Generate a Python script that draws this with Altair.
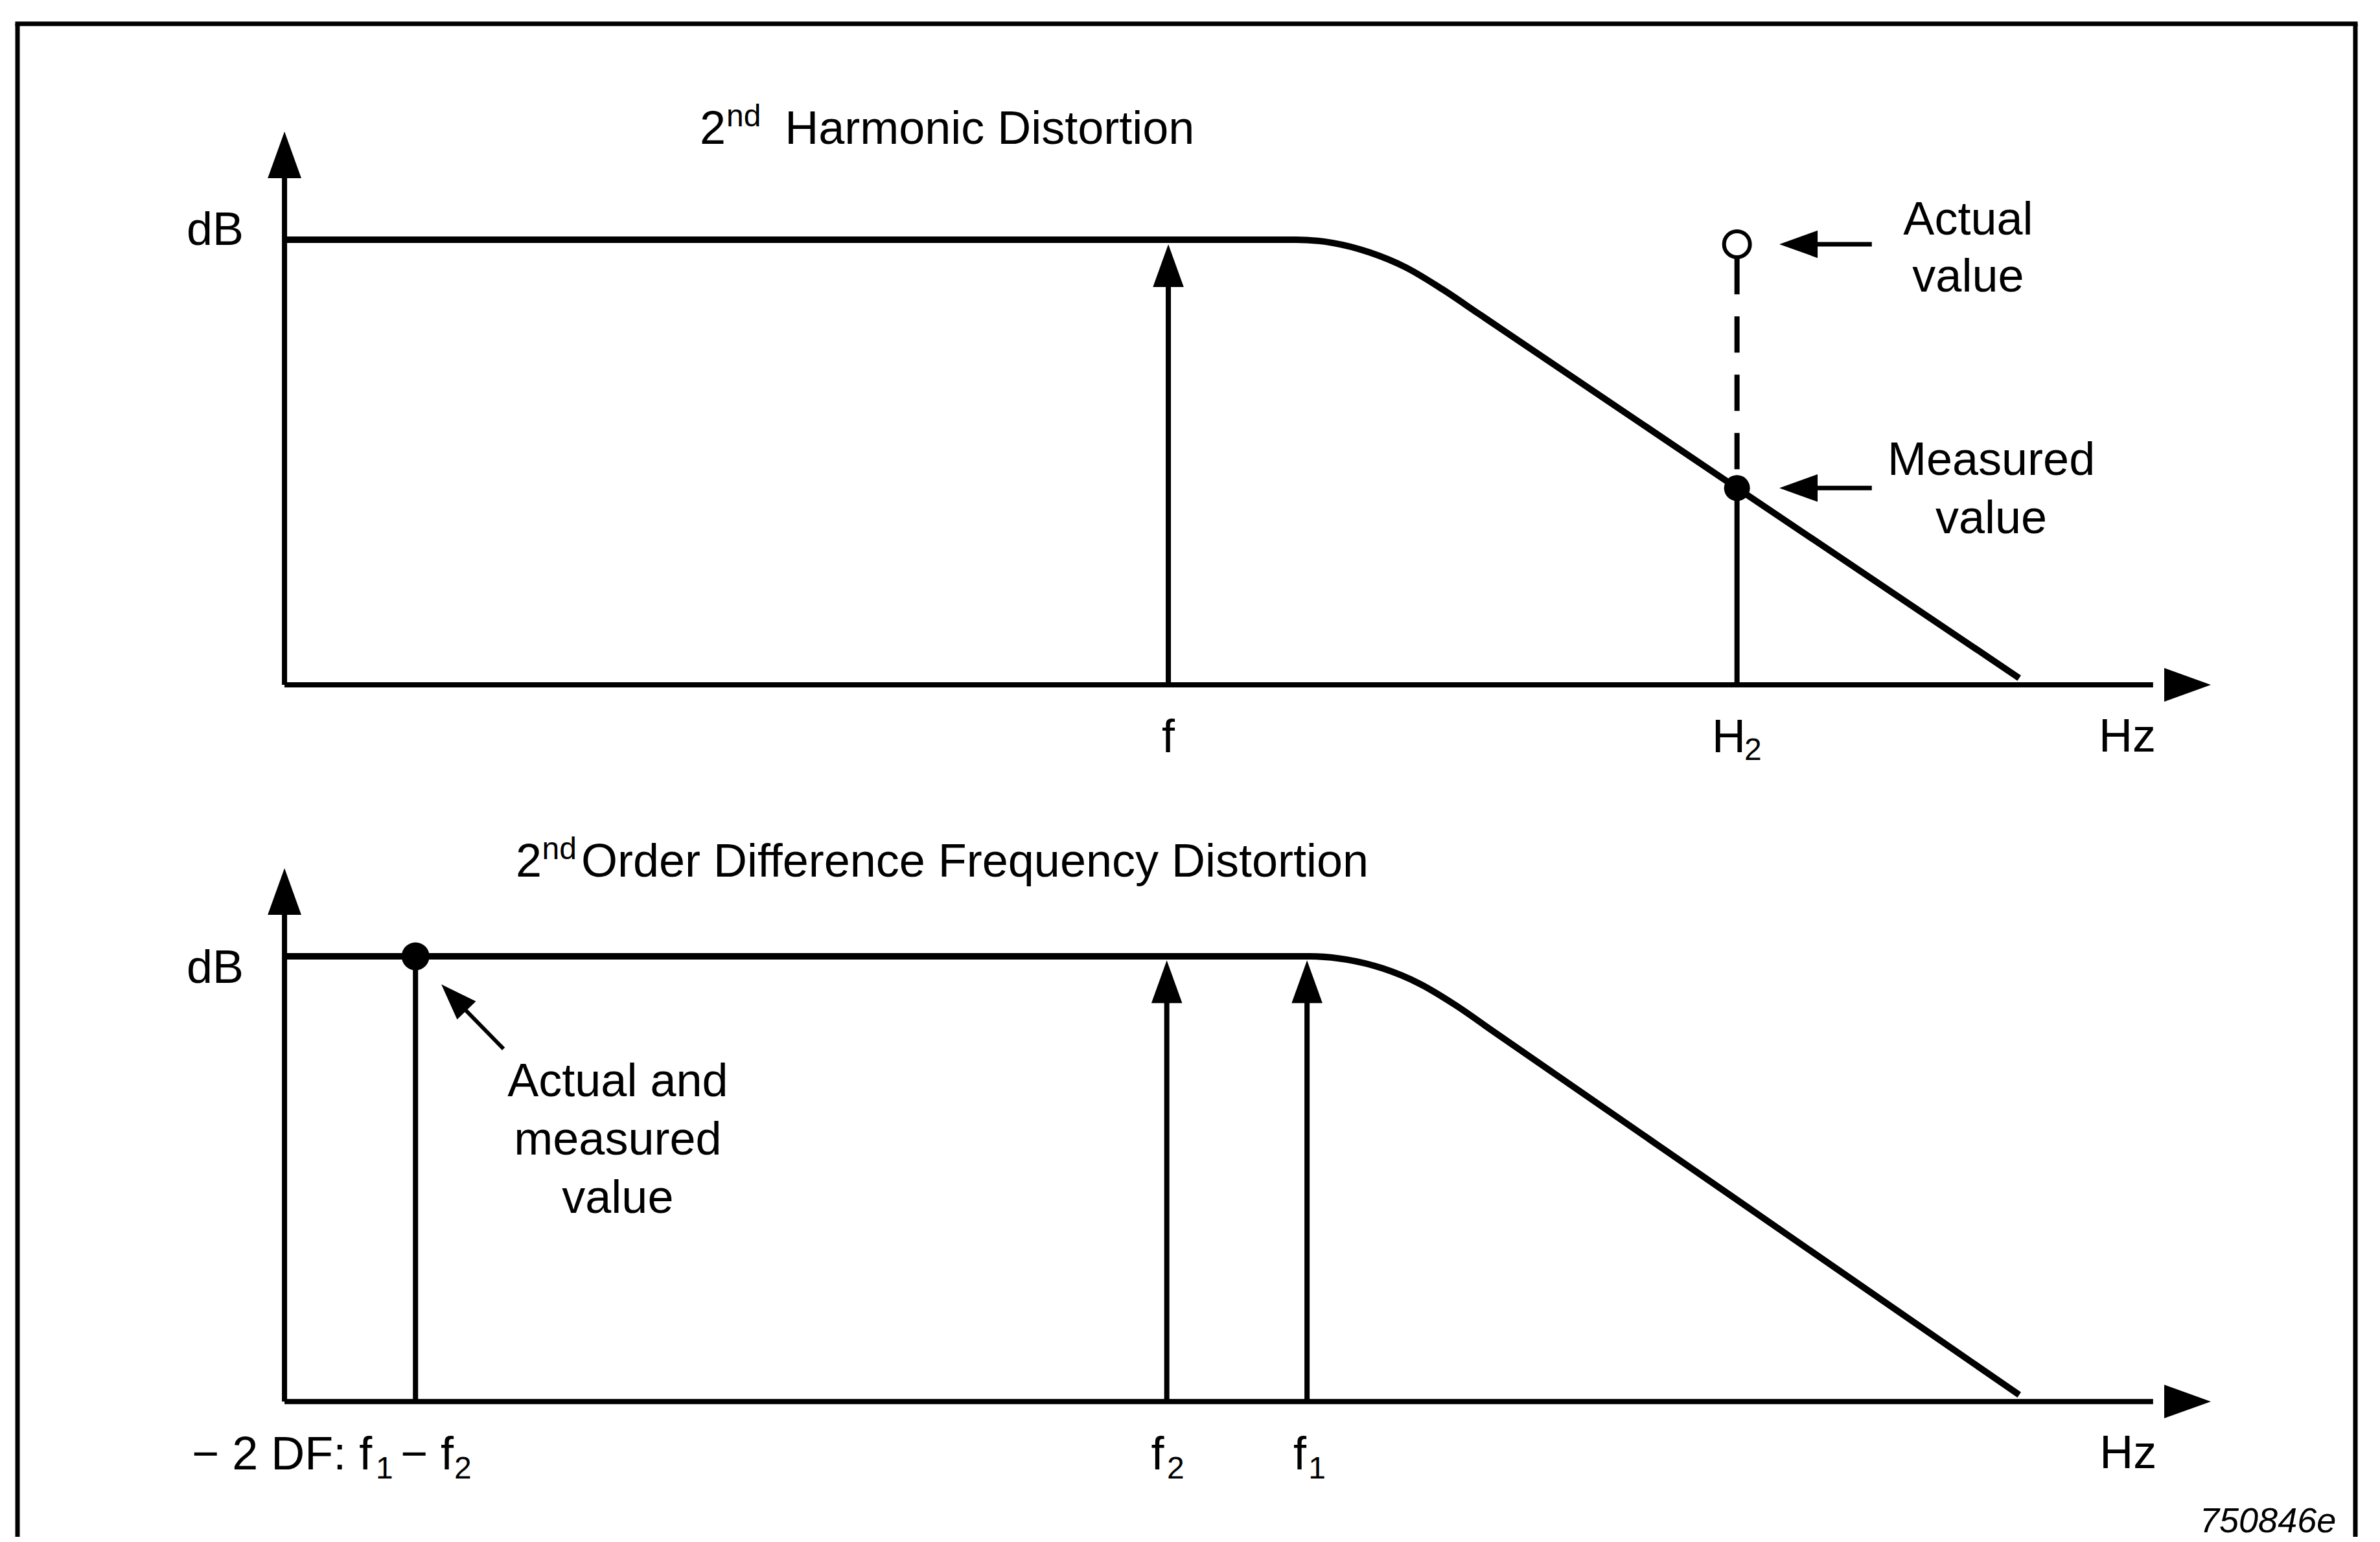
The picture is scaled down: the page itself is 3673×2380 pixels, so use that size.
import altair as alt
import pandas as pd

# ---------------- diagram data ----------------
# Units: f = position along the frequency axis (0 = dB axis, 100 = tip of the Hz arrow)
#        L = level (0 = baseline, 100 = the "dB" pass-band level)

# response curves
top_curve_f = [0, 52.5, 54.4, 56.3, 58.2, 60.1, 62.0, 75.4, 88.0, 90.05]
top_curve_L = [100, 100, 99.3, 97.2, 93.8, 88.9, 83.35, 44.2, 7.5, 1.5]
bot_curve_f = [0, 53.2, 55.1, 57.0, 58.9, 60.8, 62.7, 75.4, 88.0, 90.05]
bot_curve_L = [100, 100, 99.3, 97.3, 93.9, 89.0, 83.3, 45.3, 7.6, 1.5]

# key frequencies / levels
f_fund = 45.88        # f
f_h2 = 75.4           # H2
h2_measured = 44.2    # measured value at H2
h2_actual = 99.0      # actual value at H2
f2_pos = 45.8
f1_pos = 53.08
df_pos = 6.8          # f1 - f2
df_level = 100.0

# text labels: (text, f, L, font size)
top_text_left = [("2", 21.56, 121.5, 72), ("nd", 22.94, 125.5, 48),
                 ("Harmonic Distortion", 25.97, 121.5, 72), ("2", 75.78, -16.9, 48)]
top_text_center = [("dB", -3.6, 98.8, 72), ("f", f_fund, -15.1, 72), ("H", 74.97, -15.1, 72),
                   ("Hz", 95.66, -15.0, 72), ("Actual", 87.4, 101.2, 72), ("value", 87.4, 88.4, 72),
                   ("Measured", 88.6, 47.2, 72), ("value", 88.6, 34.1, 72)]
bot_text_left = [("2", 12.01, 117.9, 72), ("nd", 13.37, 121.8, 48),
                 ("Order Difference Frequency Distortion", 15.40, 117.9, 72),
                 ("\u2212 2 DF: f", -4.81, -15.2, 72), ("1", 4.74, -17.3, 48),
                 ("\u2212 f", 6.02, -15.2, 72), ("2", 8.81, -17.3, 48),
                 ("f", 44.99, -15.2, 72), ("2", 45.81, -17.3, 48),
                 ("f", 52.37, -15.2, 72), ("1", 53.15, -17.3, 48)]
bot_text_center = [("dB", -3.6, 94.0, 72), ("Hz", 95.7, -15.0, 72),
                   ("Actual and", 17.3, 68.6, 72), ("measured", 17.3, 55.5, 72), ("value", 17.3, 42.4, 72)]
bot_text_right_italic = [("750846e", 106.5, -29.4, 54)]

# ---------------- layout ----------------
W = 3657
H_TOP = 1242
H_BOT = 1122
X_DOMAIN = [-14.50, 108.51]
TOP_Y_DOMAIN = [-28.1, 152.7]
BOT_Y_DOMAIN = [-30.4, 132.9]
FONT = "Liberation Sans"
FRAME_L, FRAME_R, FRAME_T = -13.86, 107.5, 148.5
ARROW = "M0,0L0.72,2L-0.72,2Z"   # arrowhead with its tip at the anchor point


def panel(ydom, height, curve_f, curve_L, rules, dashes, heads, dots, rings,
          t_left, t_center, t_right_it):
    xs = alt.Scale(domain=X_DOMAIN, nice=False, zero=False)
    ys = alt.Scale(domain=ydom, nice=False, zero=False)
    X = alt.X("f:Q", scale=xs, axis=None)
    Y = alt.Y("L:Q", scale=ys, axis=None)
    layers = []

    rdf = pd.DataFrame(rules, columns=["f", "f2", "L", "L2", "sw"])
    layers.append(alt.Chart(rdf).mark_rule(color="black", strokeCap="butt").encode(
        x=X, x2="f2:Q", y=Y, y2="L2:Q",
        strokeWidth=alt.StrokeWidth("sw:Q", scale=None, legend=None)))

    cdf = pd.DataFrame({"f": curve_f, "L": curve_L})
    layers.append(alt.Chart(cdf).mark_line(color="black", strokeWidth=10,
                                           interpolate="monotone").encode(x=X, y=Y))

    if dashes:
        ddf = pd.DataFrame(dashes, columns=["f", "f2", "L", "L2"])
        layers.append(alt.Chart(ddf).mark_rule(color="black", strokeWidth=8,
                                               strokeDash=[56, 34]).encode(
            x=X, x2="f2:Q", y=Y, y2="L2:Q"))

    hdf = pd.DataFrame(heads, columns=["f", "L", "angle", "size"])
    layers.append(alt.Chart(hdf).mark_point(shape=ARROW, filled=True, color="black",
                                            opacity=1, strokeWidth=0).encode(
        x=X, y=Y, angle=alt.Angle("angle:Q", scale=None),
        size=alt.Size("size:Q", scale=None, legend=None)))

    if dots:
        pdf_ = pd.DataFrame(dots, columns=["f", "L", "size"])
        layers.append(alt.Chart(pdf_).mark_point(shape="circle", filled=True, color="black",
                                                 opacity=1, strokeWidth=0).encode(
            x=X, y=Y, size=alt.Size("size:Q", scale=None, legend=None)))
    if rings:
        rdf2 = pd.DataFrame(rings, columns=["f", "L", "size"])
        layers.append(alt.Chart(rdf2).mark_point(shape="circle", filled=False, color="black",
                                                  fill="white", opacity=1, strokeWidth=6).encode(
            x=X, y=Y, size=alt.Size("size:Q", scale=None, legend=None)))

    for data, align, style in ((t_left, "left", "normal"), (t_center, "center", "normal"),
                               (t_right_it, "right", "italic")):
        if not data:
            continue
        tdf = pd.DataFrame(data, columns=["text", "f", "L", "size"])
        layers.append(alt.Chart(tdf).mark_text(align=align, baseline="alphabetic", font=FONT,
                                               fontStyle=style, color="black").encode(
            x=X, y=Y, text="text:N", size=alt.Size("size:Q", scale=None, legend=None)))

    return alt.layer(*layers).properties(width=W, height=height)


# ---------- top panel: 2nd harmonic distortion ----------
top_rules = [
    (FRAME_L - 0.12, FRAME_R + 0.12, FRAME_T, FRAME_T, 7),
    (FRAME_L, FRAME_L, FRAME_T, TOP_Y_DOMAIN[0], 7),
    (FRAME_R, FRAME_R, FRAME_T, TOP_Y_DOMAIN[0], 7),
    (0, 0, 0, 118, 8),
    (0, 97, 0, 0, 8),
    (f_fund, f_fund, 0, 94, 8),
    (f_h2, f_h2, 0, h2_measured, 8),
    (79.0, 82.4, h2_actual, h2_actual, 7),
    (79.0, 82.4, h2_measured, h2_measured, 7),
]
top_dashes = [(f_h2, f_h2, 95.9, 47.0)]
top_heads = [(0, 124.3, 0, 5184), (100, 0, 90, 5184), (f_fund, 99.0, 0, 4356),
             (77.6, h2_actual, 270, 3481), (77.6, h2_measured, 270, 3481)]
top_dots = [(f_h2, h2_measured, 1600)]
top_rings = [(f_h2, h2_actual, 1600)]

top = panel(TOP_Y_DOMAIN, H_TOP, top_curve_f, top_curve_L, top_rules, top_dashes,
            top_heads, top_dots, top_rings, top_text_left, top_text_center, [])

# ---------- bottom panel: 2nd order difference frequency distortion ----------
bot_rules = [
    (FRAME_L, FRAME_L, BOT_Y_DOMAIN[1], BOT_Y_DOMAIN[0], 7),
    (FRAME_R, FRAME_R, BOT_Y_DOMAIN[1], BOT_Y_DOMAIN[0], 7),
    (0, 0, 0, 113, 8),
    (0, 97, 0, 0, 8),
    (f2_pos, f2_pos, 0, 94, 8),
    (f1_pos, f1_pos, 0, 94, 8),
    (df_pos, df_pos, 0, df_level, 8),
    (11.37, 9.0, 79.2, 89.7, 6),
]
bot_heads = [(0, 119.8, 0, 5184), (100, 0, 90, 5184), (f2_pos, 99.1, 0, 4356),
             (f1_pos, 99.1, 0, 4356), (8.14, 93.7, 316, 3136)]
bot_dots = [(df_pos, df_level, 1850)]

bottom = panel(BOT_Y_DOMAIN, H_BOT, bot_curve_f, bot_curve_L, bot_rules, [],
               bot_heads, bot_dots, [], bot_text_left, bot_text_center, bot_text_right_italic)

chart = alt.vconcat(top, bottom, spacing=0, bounds="flush").properties(
    padding=0, background="white"
).configure_view(stroke=None)

chart.save("out.html", embed_options={"renderer": "svg", "actions": False})
